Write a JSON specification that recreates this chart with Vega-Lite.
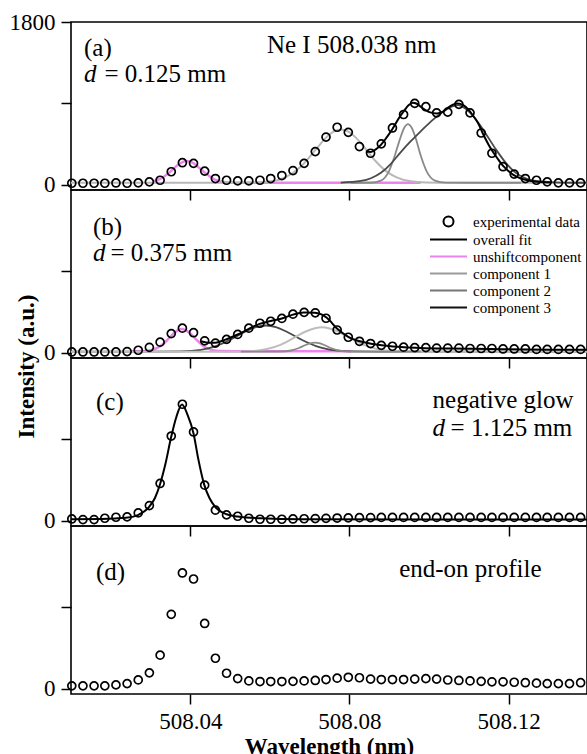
{
  "$schema": "https://vega.github.io/schema/vega-lite/v6.json",
  "padding": {"left": 8, "top": 10, "right": 0, "bottom": 0},
  "background": "white",
  "spacing": 0,
  "bounds": "flush",
  "config": {
    "font": "Liberation Serif",
    "view": {"stroke": "black", "strokeWidth": 1.6},
    "axis": {"grid": false, "domain": false, "tickColor": "black", "tickWidth": 1.5, "tickSize": 10, "labelColor": "black", "labelFont": "Liberation Serif", "labelFontSize": 23, "labelPadding": 6, "labelFlush": false, "titleFont": "Liberation Serif", "titleColor": "black"}
  },
  "resolve": {"scale": {"color": "independent", "shape": "independent"}, "legend": {"color": "independent", "shape": "independent"}},
  "datasets": {
    "pts": [
      {"wl": 508.0102, "a": 15, "b": 7, "c": 18, "d": 30},
      {"wl": 508.0130, "a": 15, "b": 7, "c": 11, "d": 30},
      {"wl": 508.0158, "a": 15, "b": 7, "c": 11, "d": 30},
      {"wl": 508.0185, "a": 15, "b": 7, "c": 26, "d": 30},
      {"wl": 508.0213, "a": 18, "b": 7, "c": 37, "d": 41},
      {"wl": 508.0241, "a": 15, "b": 11, "c": 41, "d": 55},
      {"wl": 508.0269, "a": 19, "b": 26, "c": 85, "d": 96},
      {"wl": 508.0297, "a": 30, "b": 58, "c": 166, "d": 174},
      {"wl": 508.0324, "a": 48, "b": 115, "c": 411, "d": 370},
      {"wl": 508.0352, "a": 142, "b": 210, "c": 936, "d": 822},
      {"wl": 508.0380, "a": 242, "b": 270, "c": 1288, "d": 1280},
      {"wl": 508.0408, "a": 235, "b": 220, "c": 981, "d": 1213},
      {"wl": 508.0436, "a": 149, "b": 130, "c": 392, "d": 721},
      {"wl": 508.0463, "a": 67, "b": 105, "c": 115, "d": 336},
      {"wl": 508.0491, "a": 48, "b": 146, "c": 63, "d": 170},
      {"wl": 508.0519, "a": 41, "b": 201, "c": 48, "d": 111},
      {"wl": 508.0547, "a": 41, "b": 270, "c": 26, "d": 85},
      {"wl": 508.0575, "a": 48, "b": 325, "c": 15, "d": 78},
      {"wl": 508.0602, "a": 67, "b": 347, "c": 15, "d": 78},
      {"wl": 508.0630, "a": 100, "b": 378, "c": 15, "d": 78},
      {"wl": 508.0658, "a": 155, "b": 425, "c": 18, "d": 80},
      {"wl": 508.0686, "a": 235, "b": 445, "c": 20, "d": 85},
      {"wl": 508.0714, "a": 365, "b": 440, "c": 22, "d": 90},
      {"wl": 508.0741, "a": 526, "b": 380, "c": 25, "d": 100},
      {"wl": 508.0769, "a": 635, "b": 250, "c": 28, "d": 115},
      {"wl": 508.0797, "a": 578, "b": 170, "c": 30, "d": 125},
      {"wl": 508.0825, "a": 421, "b": 125, "c": 32, "d": 120},
      {"wl": 508.0853, "a": 347, "b": 100, "c": 33, "d": 105},
      {"wl": 508.0880, "a": 451, "b": 80, "c": 35, "d": 100},
      {"wl": 508.0908, "a": 627, "b": 70, "c": 35, "d": 100},
      {"wl": 508.0936, "a": 776, "b": 60, "c": 35, "d": 100},
      {"wl": 508.0964, "a": 899, "b": 55, "c": 35, "d": 105},
      {"wl": 508.0992, "a": 862, "b": 55, "c": 35, "d": 110},
      {"wl": 508.1019, "a": 794, "b": 50, "c": 35, "d": 105},
      {"wl": 508.1047, "a": 802, "b": 50, "c": 35, "d": 95},
      {"wl": 508.1075, "a": 888, "b": 50, "c": 35, "d": 90},
      {"wl": 508.1103, "a": 794, "b": 45, "c": 35, "d": 85},
      {"wl": 508.1131, "a": 571, "b": 45, "c": 35, "d": 80},
      {"wl": 508.1158, "a": 347, "b": 45, "c": 35, "d": 75},
      {"wl": 508.1186, "a": 198, "b": 40, "c": 35, "d": 75},
      {"wl": 508.1214, "a": 116, "b": 40, "c": 35, "d": 70},
      {"wl": 508.1242, "a": 67, "b": 40, "c": 35, "d": 65},
      {"wl": 508.1270, "a": 48, "b": 35, "c": 35, "d": 60},
      {"wl": 508.1297, "a": 30, "b": 35, "c": 35, "d": 55},
      {"wl": 508.1325, "a": 19, "b": 35, "c": 35, "d": 55},
      {"wl": 508.1353, "a": 19, "b": 35, "c": 35, "d": 55},
      {"wl": 508.1381, "a": 19, "b": 35, "c": 35, "d": 65}
    ],
    "curves": [
      {"p": "a", "s": "u", "wl": 508.0306, "v": 34},
      {"p": "a", "s": "u", "wl": 508.0324, "v": 62},
      {"p": "a", "s": "u", "wl": 508.0352, "v": 152},
      {"p": "a", "s": "u", "wl": 508.0366, "v": 208},
      {"p": "a", "s": "u", "wl": 508.0380, "v": 248},
      {"p": "a", "s": "u", "wl": 508.0391, "v": 260},
      {"p": "a", "s": "u", "wl": 508.0408, "v": 236},
      {"p": "a", "s": "u", "wl": 508.0419, "v": 198},
      {"p": "a", "s": "u", "wl": 508.0436, "v": 133},
      {"p": "a", "s": "u", "wl": 508.0463, "v": 52},
      {"p": "a", "s": "u", "wl": 508.0491, "v": 25},
      {"p": "a", "s": "u", "wl": 508.0519, "v": 20},
      {"p": "a", "s": "u", "wl": 508.0577, "v": 20},
      {"p": "a", "s": "u", "wl": 508.0678, "v": 20},
      {"p": "a", "s": "u", "wl": 508.0804, "v": 20},
      {"p": "a", "s": "u", "wl": 508.0979, "v": 20},
      {"p": "a", "s": "c1", "wl": 508.0100, "v": 20},
      {"p": "a", "s": "c1", "wl": 508.0301, "v": 20},
      {"p": "a", "s": "c1", "wl": 508.0427, "v": 20},
      {"p": "a", "s": "c1", "wl": 508.0502, "v": 20},
      {"p": "a", "s": "c1", "wl": 508.0552, "v": 22},
      {"p": "a", "s": "c1", "wl": 508.0603, "v": 36},
      {"p": "a", "s": "c1", "wl": 508.0640, "v": 83},
      {"p": "a", "s": "c1", "wl": 508.0678, "v": 201},
      {"p": "a", "s": "c1", "wl": 508.0716, "v": 392},
      {"p": "a", "s": "c1", "wl": 508.0741, "v": 520},
      {"p": "a", "s": "c1", "wl": 508.0761, "v": 589},
      {"p": "a", "s": "c1", "wl": 508.0778, "v": 610},
      {"p": "a", "s": "c1", "wl": 508.0796, "v": 589},
      {"p": "a", "s": "c1", "wl": 508.0816, "v": 520},
      {"p": "a", "s": "c1", "wl": 508.0841, "v": 392},
      {"p": "a", "s": "c1", "wl": 508.0866, "v": 258},
      {"p": "a", "s": "c1", "wl": 508.0891, "v": 152},
      {"p": "a", "s": "c1", "wl": 508.0917, "v": 83},
      {"p": "a", "s": "c1", "wl": 508.0954, "v": 36},
      {"p": "a", "s": "c1", "wl": 508.0992, "v": 23},
      {"p": "a", "s": "c1", "wl": 508.1055, "v": 20},
      {"p": "a", "s": "c1", "wl": 508.1397, "v": 20},
      {"p": "a", "s": "c2", "wl": 508.0804, "v": 20},
      {"p": "a", "s": "c2", "wl": 508.0854, "v": 21},
      {"p": "a", "s": "c2", "wl": 508.0879, "v": 44},
      {"p": "a", "s": "c2", "wl": 508.0899, "v": 147},
      {"p": "a", "s": "c2", "wl": 508.0914, "v": 322},
      {"p": "a", "s": "c2", "wl": 508.0927, "v": 506},
      {"p": "a", "s": "c2", "wl": 508.0937, "v": 624},
      {"p": "a", "s": "c2", "wl": 508.0947, "v": 670},
      {"p": "a", "s": "c2", "wl": 508.0957, "v": 624},
      {"p": "a", "s": "c2", "wl": 508.0967, "v": 506},
      {"p": "a", "s": "c2", "wl": 508.0979, "v": 322},
      {"p": "a", "s": "c2", "wl": 508.0994, "v": 147},
      {"p": "a", "s": "c2", "wl": 508.1015, "v": 44},
      {"p": "a", "s": "c2", "wl": 508.1042, "v": 21},
      {"p": "a", "s": "c2", "wl": 508.1105, "v": 20},
      {"p": "a", "s": "c2", "wl": 508.1231, "v": 20},
      {"p": "a", "s": "c3", "wl": 508.0778, "v": 22},
      {"p": "a", "s": "c3", "wl": 508.0829, "v": 40},
      {"p": "a", "s": "c3", "wl": 508.0854, "v": 70},
      {"p": "a", "s": "c3", "wl": 508.0879, "v": 130},
      {"p": "a", "s": "c3", "wl": 508.0904, "v": 230},
      {"p": "a", "s": "c3", "wl": 508.0929, "v": 360},
      {"p": "a", "s": "c3", "wl": 508.0954, "v": 480},
      {"p": "a", "s": "c3", "wl": 508.0979, "v": 590},
      {"p": "a", "s": "c3", "wl": 508.1005, "v": 700},
      {"p": "a", "s": "c3", "wl": 508.1030, "v": 790},
      {"p": "a", "s": "c3", "wl": 508.1055, "v": 860},
      {"p": "a", "s": "c3", "wl": 508.1072, "v": 880},
      {"p": "a", "s": "c3", "wl": 508.1092, "v": 840},
      {"p": "a", "s": "c3", "wl": 508.1118, "v": 720},
      {"p": "a", "s": "c3", "wl": 508.1143, "v": 560},
      {"p": "a", "s": "c3", "wl": 508.1168, "v": 390},
      {"p": "a", "s": "c3", "wl": 508.1193, "v": 240},
      {"p": "a", "s": "c3", "wl": 508.1218, "v": 130},
      {"p": "a", "s": "c3", "wl": 508.1243, "v": 70},
      {"p": "a", "s": "c3", "wl": 508.1281, "v": 35},
      {"p": "a", "s": "c3", "wl": 508.1331, "v": 22},
      {"p": "a", "s": "c3", "wl": 508.1397, "v": 20},
      {"p": "a", "s": "f", "wl": 508.0841, "v": 366},
      {"p": "a", "s": "f", "wl": 508.0854, "v": 362},
      {"p": "a", "s": "f", "wl": 508.0866, "v": 390},
      {"p": "a", "s": "f", "wl": 508.0879, "v": 440},
      {"p": "a", "s": "f", "wl": 508.0894, "v": 525},
      {"p": "a", "s": "f", "wl": 508.0908, "v": 615},
      {"p": "a", "s": "f", "wl": 508.0922, "v": 720},
      {"p": "a", "s": "f", "wl": 508.0937, "v": 815},
      {"p": "a", "s": "f", "wl": 508.0949, "v": 880},
      {"p": "a", "s": "f", "wl": 508.0959, "v": 906},
      {"p": "a", "s": "f", "wl": 508.0969, "v": 895},
      {"p": "a", "s": "f", "wl": 508.0979, "v": 862},
      {"p": "a", "s": "f", "wl": 508.0999, "v": 805},
      {"p": "a", "s": "f", "wl": 508.1020, "v": 787},
      {"p": "a", "s": "f", "wl": 508.1035, "v": 808},
      {"p": "a", "s": "f", "wl": 508.1047, "v": 850},
      {"p": "a", "s": "f", "wl": 508.1060, "v": 885},
      {"p": "a", "s": "f", "wl": 508.1072, "v": 899},
      {"p": "a", "s": "f", "wl": 508.1085, "v": 882},
      {"p": "a", "s": "f", "wl": 508.1098, "v": 835},
      {"p": "a", "s": "f", "wl": 508.1110, "v": 768},
      {"p": "a", "s": "f", "wl": 508.1123, "v": 682},
      {"p": "a", "s": "f", "wl": 508.1138, "v": 540},
      {"p": "a", "s": "f", "wl": 508.1151, "v": 430},
      {"p": "a", "s": "f", "wl": 508.1163, "v": 347},
      {"p": "a", "s": "f", "wl": 508.1176, "v": 265},
      {"p": "a", "s": "f", "wl": 508.1188, "v": 198},
      {"p": "a", "s": "f", "wl": 508.1201, "v": 145},
      {"p": "a", "s": "f", "wl": 508.1213, "v": 104},
      {"p": "a", "s": "f", "wl": 508.1231, "v": 68},
      {"p": "a", "s": "f", "wl": 508.1256, "v": 40},
      {"p": "a", "s": "f", "wl": 508.1281, "v": 28},
      {"p": "a", "s": "f", "wl": 508.1306, "v": 22},
      {"p": "b", "s": "u", "wl": 508.0251, "v": 15},
      {"p": "b", "s": "u", "wl": 508.0283, "v": 17},
      {"p": "b", "s": "u", "wl": 508.0301, "v": 26},
      {"p": "b", "s": "u", "wl": 508.0326, "v": 75},
      {"p": "b", "s": "u", "wl": 508.0341, "v": 134},
      {"p": "b", "s": "u", "wl": 508.0356, "v": 204},
      {"p": "b", "s": "u", "wl": 508.0366, "v": 241},
      {"p": "b", "s": "u", "wl": 508.0379, "v": 260},
      {"p": "b", "s": "u", "wl": 508.0391, "v": 241},
      {"p": "b", "s": "u", "wl": 508.0402, "v": 204},
      {"p": "b", "s": "u", "wl": 508.0417, "v": 134},
      {"p": "b", "s": "u", "wl": 508.0434, "v": 67},
      {"p": "b", "s": "u", "wl": 508.0452, "v": 32},
      {"p": "b", "s": "u", "wl": 508.0477, "v": 17},
      {"p": "b", "s": "u", "wl": 508.0527, "v": 15},
      {"p": "b", "s": "u", "wl": 508.0804, "v": 15},
      {"p": "b", "s": "c3", "wl": 508.0100, "v": 10},
      {"p": "b", "s": "c3", "wl": 508.0301, "v": 10},
      {"p": "b", "s": "c3", "wl": 508.0376, "v": 13},
      {"p": "b", "s": "c3", "wl": 508.0427, "v": 31},
      {"p": "b", "s": "c3", "wl": 508.0464, "v": 72},
      {"p": "b", "s": "c3", "wl": 508.0502, "v": 146},
      {"p": "b", "s": "c3", "wl": 508.0540, "v": 236},
      {"p": "b", "s": "c3", "wl": 508.0565, "v": 283},
      {"p": "b", "s": "c3", "wl": 508.0590, "v": 300},
      {"p": "b", "s": "c3", "wl": 508.0615, "v": 283},
      {"p": "b", "s": "c3", "wl": 508.0640, "v": 236},
      {"p": "b", "s": "c3", "wl": 508.0678, "v": 146},
      {"p": "b", "s": "c3", "wl": 508.0716, "v": 72},
      {"p": "b", "s": "c3", "wl": 508.0753, "v": 31},
      {"p": "b", "s": "c3", "wl": 508.0804, "v": 13},
      {"p": "b", "s": "c3", "wl": 508.0879, "v": 10},
      {"p": "b", "s": "c3", "wl": 508.1397, "v": 10},
      {"p": "b", "s": "c1", "wl": 508.0100, "v": 10},
      {"p": "b", "s": "c1", "wl": 508.0477, "v": 10},
      {"p": "b", "s": "c1", "wl": 508.0552, "v": 16},
      {"p": "b", "s": "c1", "wl": 508.0590, "v": 36},
      {"p": "b", "s": "c1", "wl": 508.0628, "v": 88},
      {"p": "b", "s": "c1", "wl": 508.0665, "v": 174},
      {"p": "b", "s": "c1", "wl": 508.0690, "v": 233},
      {"p": "b", "s": "c1", "wl": 508.0713, "v": 270},
      {"p": "b", "s": "c1", "wl": 508.0731, "v": 280},
      {"p": "b", "s": "c1", "wl": 508.0748, "v": 270},
      {"p": "b", "s": "c1", "wl": 508.0771, "v": 233},
      {"p": "b", "s": "c1", "wl": 508.0796, "v": 174},
      {"p": "b", "s": "c1", "wl": 508.0834, "v": 88},
      {"p": "b", "s": "c1", "wl": 508.0871, "v": 36},
      {"p": "b", "s": "c1", "wl": 508.0909, "v": 16},
      {"p": "b", "s": "c1", "wl": 508.0979, "v": 10},
      {"p": "b", "s": "c1", "wl": 508.1397, "v": 10},
      {"p": "b", "s": "c2", "wl": 508.0527, "v": 10},
      {"p": "b", "s": "c2", "wl": 508.0628, "v": 12},
      {"p": "b", "s": "c2", "wl": 508.0653, "v": 23},
      {"p": "b", "s": "c2", "wl": 508.0673, "v": 51},
      {"p": "b", "s": "c2", "wl": 508.0688, "v": 81},
      {"p": "b", "s": "c2", "wl": 508.0701, "v": 102},
      {"p": "b", "s": "c2", "wl": 508.0713, "v": 110},
      {"p": "b", "s": "c2", "wl": 508.0726, "v": 102},
      {"p": "b", "s": "c2", "wl": 508.0738, "v": 81},
      {"p": "b", "s": "c2", "wl": 508.0753, "v": 51},
      {"p": "b", "s": "c2", "wl": 508.0773, "v": 23},
      {"p": "b", "s": "c2", "wl": 508.0798, "v": 12},
      {"p": "b", "s": "c2", "wl": 508.0879, "v": 10},
      {"p": "b", "s": "c2", "wl": 508.0979, "v": 10},
      {"p": "b", "s": "f", "wl": 508.0427, "v": 125},
      {"p": "b", "s": "f", "wl": 508.0444, "v": 110},
      {"p": "b", "s": "f", "wl": 508.0462, "v": 108},
      {"p": "b", "s": "f", "wl": 508.0477, "v": 125},
      {"p": "b", "s": "f", "wl": 508.0491, "v": 148},
      {"p": "b", "s": "f", "wl": 508.0519, "v": 200},
      {"p": "b", "s": "f", "wl": 508.0547, "v": 262},
      {"p": "b", "s": "f", "wl": 508.0574, "v": 318},
      {"p": "b", "s": "f", "wl": 508.0602, "v": 350},
      {"p": "b", "s": "f", "wl": 508.0630, "v": 378},
      {"p": "b", "s": "f", "wl": 508.0658, "v": 420},
      {"p": "b", "s": "f", "wl": 508.0685, "v": 443},
      {"p": "b", "s": "f", "wl": 508.0713, "v": 442},
      {"p": "b", "s": "f", "wl": 508.0728, "v": 425},
      {"p": "b", "s": "f", "wl": 508.0743, "v": 385},
      {"p": "b", "s": "f", "wl": 508.0770, "v": 260},
      {"p": "b", "s": "f", "wl": 508.0798, "v": 172},
      {"p": "b", "s": "f", "wl": 508.0826, "v": 125},
      {"p": "b", "s": "f", "wl": 508.0854, "v": 98},
      {"p": "b", "s": "f", "wl": 508.0881, "v": 80},
      {"p": "b", "s": "f", "wl": 508.0909, "v": 68},
      {"p": "b", "s": "f", "wl": 508.0937, "v": 60},
      {"p": "b", "s": "f", "wl": 508.0979, "v": 52},
      {"p": "b", "s": "f", "wl": 508.1055, "v": 45},
      {"p": "b", "s": "f", "wl": 508.1181, "v": 38},
      {"p": "b", "s": "f", "wl": 508.1306, "v": 32},
      {"p": "b", "s": "f", "wl": 508.1397, "v": 30},
      {"p": "c", "s": "f", "wl": 508.0100, "v": 15},
      {"p": "c", "s": "f", "wl": 508.0175, "v": 18},
      {"p": "c", "s": "f", "wl": 508.0238, "v": 30},
      {"p": "c", "s": "f", "wl": 508.0268, "v": 60},
      {"p": "c", "s": "f", "wl": 508.0296, "v": 150},
      {"p": "c", "s": "f", "wl": 508.0311, "v": 250},
      {"p": "c", "s": "f", "wl": 508.0324, "v": 405},
      {"p": "c", "s": "f", "wl": 508.0337, "v": 620},
      {"p": "c", "s": "f", "wl": 508.0352, "v": 930},
      {"p": "c", "s": "f", "wl": 508.0365, "v": 1150},
      {"p": "c", "s": "f", "wl": 508.0379, "v": 1285},
      {"p": "c", "s": "f", "wl": 508.0393, "v": 1170},
      {"p": "c", "s": "f", "wl": 508.0408, "v": 965},
      {"p": "c", "s": "f", "wl": 508.0420, "v": 680},
      {"p": "c", "s": "f", "wl": 508.0435, "v": 395},
      {"p": "c", "s": "f", "wl": 508.0448, "v": 250},
      {"p": "c", "s": "f", "wl": 508.0463, "v": 150},
      {"p": "c", "s": "f", "wl": 508.0491, "v": 70},
      {"p": "c", "s": "f", "wl": 508.0519, "v": 45},
      {"p": "c", "s": "f", "wl": 508.0577, "v": 25},
      {"p": "c", "s": "f", "wl": 508.0678, "v": 15},
      {"p": "c", "s": "f", "wl": 508.1397, "v": 12}
    ],
    "notes": [
      {"p": "a", "wl": 508.01327, "v": 1512, "t": "(a)"},
      {"p": "a", "wl": 508.01841, "v": 1224, "t": "= 0.125 mm"},
      {"p": "a", "wl": 508.05925, "v": 1545, "t": "Ne I 508.038 nm"},
      {"p": "b", "wl": 508.01553, "v": 1390, "t": "(b)"},
      {"p": "b", "wl": 508.01992, "v": 1103, "t": "= 0.375 mm"},
      {"p": "c", "wl": 508.01628, "v": 1313, "t": "(c)"},
      {"p": "c", "wl": 508.10088, "v": 1335, "t": "negative glow"},
      {"p": "c", "wl": 508.1054, "v": 1025, "t": "= 1.125 mm"},
      {"p": "d", "wl": 508.01628, "v": 1291, "t": "(d)"},
      {"p": "d", "wl": 508.09249, "v": 1324, "t": "end-on profile"}
    ],
    "dnotes": [
      {"p": "a", "wl": 508.01327, "v": 1224, "t": "d"},
      {"p": "b", "wl": 508.01553, "v": 1103, "t": "d"},
      {"p": "c", "wl": 508.10088, "v": 1025, "t": "d"}
    ]
  },
  "vconcat": [
    {
      "width": 516, "height": 168,
      "encoding": {
        "x": {"field": "wl", "type": "quantitative", "scale": {"domain": [508.01, 508.1397], "nice": false, "zero": false}, "axis": {"values": [508.04, 508.08, 508.12], "labels": false, "title": null}},
        "y": {"field": "v", "type": "quantitative", "scale": {"domain": [-60, 1800], "nice": false, "zero": false}, "axis": {"values": [0, 900, 1800], "format": "d", "labelExpr": "datum.value == 900 ? '' : datum.label", "title": null}}
      },
      "layer": [
        {"data": {"name": "curves"}, "transform": [{"filter": "datum.p == 'a' && datum.s == 'u'"}], "mark": {"type": "line", "color": "#ee82ee", "strokeWidth": 2.5, "interpolate": "monotone"}, "encoding": {}},
        {"data": {"name": "curves"}, "transform": [{"filter": "datum.p == 'a' && datum.s == 'c1'"}], "mark": {"type": "line", "color": "#b8b8b8", "strokeWidth": 2, "interpolate": "monotone"}, "encoding": {}},
        {"data": {"name": "curves"}, "transform": [{"filter": "datum.p == 'a' && datum.s == 'c2'"}], "mark": {"type": "line", "color": "#8a8a8a", "strokeWidth": 1.8, "interpolate": "monotone"}, "encoding": {}},
        {"data": {"name": "curves"}, "transform": [{"filter": "datum.p == 'a' && datum.s == 'c3'"}], "mark": {"type": "line", "color": "#4a4a4a", "strokeWidth": 1.8, "interpolate": "monotone"}, "encoding": {}},
        {"data": {"name": "curves"}, "transform": [{"filter": "datum.p == 'a' && datum.s == 'f'"}], "mark": {"type": "line", "color": "black", "strokeWidth": 2, "interpolate": "monotone"}, "encoding": {}},
        {"data": {"name": "pts"}, "transform": [{"fold": ["a", "b", "c", "d"], "as": ["p", "v"]}, {"filter": "datum.p == 'a'"}], "mark": {"type": "point", "filled": false, "color": "black", "strokeWidth": 1.7, "size": 64, "opacity": 1}},
        {"data": {"name": "notes"}, "transform": [{"filter": "datum.p == 'a'"}], "mark": {"type": "text", "align": "left", "baseline": "middle", "fontSize": 25, "font": "Liberation Serif", "color": "black"}, "encoding": {"text": {"field": "t"}}},
        {"data": {"name": "dnotes"}, "transform": [{"filter": "datum.p == 'a'"}], "mark": {"type": "text", "align": "left", "baseline": "middle", "fontSize": 25, "fontStyle": "italic", "font": "Liberation Serif", "color": "black"}, "encoding": {"text": {"field": "t"}}}
      ]
    },
    {
      "width": 516, "height": 168,
      "encoding": {
        "x": {"field": "wl", "type": "quantitative", "scale": {"domain": [508.01, 508.1397], "nice": false, "zero": false}, "axis": {"values": [508.04, 508.08, 508.12], "labels": false, "title": null}},
        "y": {"field": "v", "type": "quantitative", "scale": {"domain": [-60, 1800], "nice": false, "zero": false}, "axis": {"values": [0, 900], "format": "d", "labelExpr": "datum.value == 0 ? '0' : ''", "title": "Intensity (a.u.)", "titleFontSize": 23, "titleFontWeight": "bold", "titleAngle": 270, "titleAlign": "center", "titleBaseline": "middle", "titleX": -45, "titleY": 176}}
      },
      "layer": [
        {"data": {"name": "curves"}, "transform": [{"filter": "datum.p == 'b' && datum.s == 'u'"}], "mark": {"type": "line", "color": "#ee82ee", "strokeWidth": 2.5, "interpolate": "monotone"}, "encoding": {}},
        {"data": {"name": "curves"}, "transform": [{"filter": "datum.p == 'b' && datum.s == 'c3'"}], "mark": {"type": "line", "color": "#4a4a4a", "strokeWidth": 1.8, "interpolate": "monotone"}, "encoding": {}},
        {"data": {"name": "curves"}, "transform": [{"filter": "datum.p == 'b' && datum.s == 'c1'"}], "mark": {"type": "line", "color": "#bdbdbd", "strokeWidth": 2, "interpolate": "monotone"}, "encoding": {}},
        {"data": {"name": "curves"}, "transform": [{"filter": "datum.p == 'b' && datum.s == 'c2'"}], "mark": {"type": "line", "color": "#8a8a8a", "strokeWidth": 1.8, "interpolate": "monotone"}, "encoding": {}},
        {"data": {"name": "curves"}, "transform": [{"filter": "datum.p == 'b' && datum.s == 'f'"}], "mark": {"type": "line", "color": "black", "strokeWidth": 2, "interpolate": "monotone"}, "encoding": {}},
        {"data": {"name": "pts"}, "transform": [{"fold": ["a", "b", "c", "d"], "as": ["p", "v"]}, {"filter": "datum.p == 'b'"}], "mark": {"type": "point", "filled": false, "strokeWidth": 1.7, "size": 64, "opacity": 1},
          "encoding": {
            "color": {"datum": "experimental data", "type": "nominal", "scale": {"domain": ["experimental data", "overall fit", "unshiftcomponent", "component 1", "component 2", "component 3"], "range": ["black", "black", "#ee82ee", "#9a9a9a", "#777777", "#111111"]}, "legend": {"orient": "none", "legendX": 370, "legendY": 24, "title": null, "padding": 0, "rowPadding": 1, "labelOffset": 17, "symbolSize": 100, "symbolStrokeWidth": 2, "labelFontSize": 15, "labelFont": "Liberation Serif", "labelColor": "black"}},
            "shape": {"datum": "experimental data", "type": "nominal", "scale": {"domain": ["experimental data", "overall fit", "unshiftcomponent", "component 1", "component 2", "component 3"], "range": ["circle", "M-3.7,0H3.7", "M-3.7,0H3.7", "M-3.7,0H3.7", "M-3.7,0H3.7", "M-3.7,0H3.7"]}, "legend": {"orient": "none", "legendX": 370, "legendY": 24, "title": null, "padding": 0, "rowPadding": 1, "labelOffset": 17, "symbolSize": 100, "symbolStrokeWidth": 2, "labelFontSize": 15, "labelFont": "Liberation Serif", "labelColor": "black"}}
          }},
        {"data": {"name": "notes"}, "transform": [{"filter": "datum.p == 'b'"}], "mark": {"type": "text", "align": "left", "baseline": "middle", "fontSize": 25, "font": "Liberation Serif", "color": "black"}, "encoding": {"text": {"field": "t"}}},
        {"data": {"name": "dnotes"}, "transform": [{"filter": "datum.p == 'b'"}], "mark": {"type": "text", "align": "left", "baseline": "middle", "fontSize": 25, "fontStyle": "italic", "font": "Liberation Serif", "color": "black"}, "encoding": {"text": {"field": "t"}}}
      ]
    },
    {
      "width": 516, "height": 168,
      "encoding": {
        "x": {"field": "wl", "type": "quantitative", "scale": {"domain": [508.01, 508.1397], "nice": false, "zero": false}, "axis": {"values": [508.04, 508.08, 508.12], "labels": false, "title": null}},
        "y": {"field": "v", "type": "quantitative", "scale": {"domain": [-60, 1800], "nice": false, "zero": false}, "axis": {"values": [0, 900], "format": "d", "labelExpr": "datum.value == 0 ? '0' : ''", "title": null}}
      },
      "layer": [
        {"data": {"name": "curves"}, "transform": [{"filter": "datum.p == 'c' && datum.s == 'f'"}], "mark": {"type": "line", "color": "black", "strokeWidth": 2, "interpolate": "monotone"}, "encoding": {}},
        {"data": {"name": "pts"}, "transform": [{"fold": ["a", "b", "c", "d"], "as": ["p", "v"]}, {"filter": "datum.p == 'c'"}], "mark": {"type": "point", "filled": false, "color": "black", "strokeWidth": 1.7, "size": 64, "opacity": 1}},
        {"data": {"name": "notes"}, "transform": [{"filter": "datum.p == 'c'"}], "mark": {"type": "text", "align": "left", "baseline": "middle", "fontSize": 25, "font": "Liberation Serif", "color": "black"}, "encoding": {"text": {"field": "t"}}},
        {"data": {"name": "dnotes"}, "transform": [{"filter": "datum.p == 'c'"}], "mark": {"type": "text", "align": "left", "baseline": "middle", "fontSize": 25, "fontStyle": "italic", "font": "Liberation Serif", "color": "black"}, "encoding": {"text": {"field": "t"}}}
      ]
    },
    {
      "width": 516, "height": 168,
      "encoding": {
        "x": {"field": "wl", "type": "quantitative", "scale": {"domain": [508.01, 508.1397], "nice": false, "zero": false}, "axis": {"values": [508.04, 508.08, 508.12], "format": ".2f", "title": "Wavelength (nm)", "titleFontSize": 23, "titleFontWeight": "bold", "titlePadding": 2}},
        "y": {"field": "v", "type": "quantitative", "scale": {"domain": [-60, 1800], "nice": false, "zero": false}, "axis": {"values": [0, 900], "format": "d", "labelExpr": "datum.value == 0 ? '0' : ''", "title": null}}
      },
      "layer": [
        {"data": {"name": "pts"}, "transform": [{"fold": ["a", "b", "c", "d"], "as": ["p", "v"]}, {"filter": "datum.p == 'd'"}], "mark": {"type": "point", "filled": false, "color": "black", "strokeWidth": 1.7, "size": 64, "opacity": 1}},
        {"data": {"name": "notes"}, "transform": [{"filter": "datum.p == 'd'"}], "mark": {"type": "text", "align": "left", "baseline": "middle", "fontSize": 25, "font": "Liberation Serif", "color": "black"}, "encoding": {"text": {"field": "t"}}}
      ]
    }
  ]
}
